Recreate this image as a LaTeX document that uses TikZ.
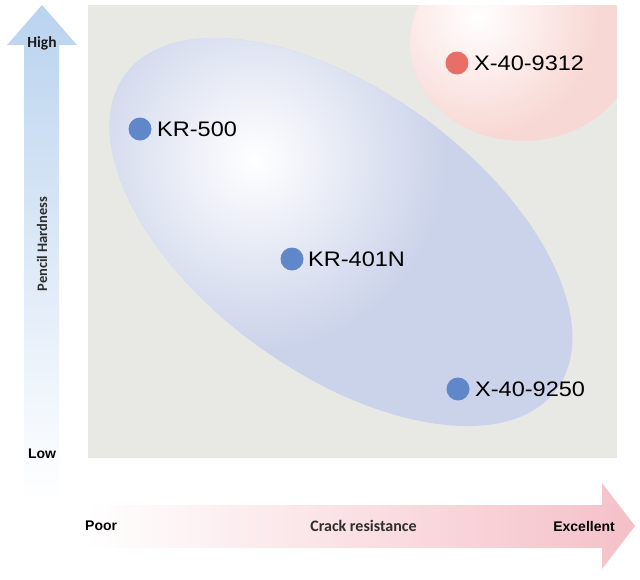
\documentclass[tikz,border=0pt]{standalone}
\usepackage{fontspec}
\setmainfont{Liberation Sans}
\newfontfamily\carlfont{Carlito}
\usepackage{graphicx}
\definecolor{bggray}{HTML}{E8E9E5}
\definecolor{blueell}{HTML}{CBD3EA}
\definecolor{pinkell}{HTML}{F8D8D4}
\definecolor{dotblue}{HTML}{5F87C9}
\definecolor{dotred}{HTML}{E86E68}
\definecolor{arrblue}{HTML}{BAD3EF}
\definecolor{arrpink}{HTML}{F5C0C8}
\definecolor{txtdark}{HTML}{2E2E2E}
\begin{document}
\begin{tikzpicture}[x=1pt,y=-1pt,
  dotb/.style={circle,fill=dotblue,minimum size=23pt,inner sep=0pt},
  dotr/.style={circle,fill=dotred,minimum size=23pt,inner sep=0pt},
  lab/.style={anchor=west,inner sep=0pt,font=\fontsize{21}{21}\selectfont},
  axlab/.style={inner sep=0pt,text=txtdark,font=\carlfont\bfseries\fontsize{15}{15}\selectfont},
  endlab/.style={inner sep=0pt,text=black,font=\bfseries\fontsize{14}{14}\selectfont}]
\useasboundingbox (0,0) rectangle (640,579);
% plot background
\fill[bggray] (88,5) rectangle (617,458);
% pink region
\begin{scope}
  \clip (88,5) rectangle (617,458);
  \clip (523,43) ellipse [x radius=113, y radius=98];
  \fill[pinkell] (400,-60) rectangle (640,150);
  \shade[inner color=white, outer color=pinkell] (478,16) circle (120);
\end{scope}
% blue region
\begin{scope}
  \clip[rotate around={-36:(341,232)}] (341,232) ellipse [x radius=267, y radius=141];
  \fill[blueell] (80,0) rectangle (620,460);
  \shade[inner color=white, outer color=blueell] (255,160) circle (190);
\end{scope}
% vertical arrow
\shade[top color=arrblue, bottom color=white]
  (42,5) -- (77,45) -- (59,45) -- (59,500) -- (24,500) -- (24,45) -- (7,45) -- cycle;
% horizontal arrow
\shade[left color=white, right color=arrpink]
  (85,505) -- (602,505) -- (602,483) -- (635,526) -- (602,569) -- (602,548) -- (85,548) -- cycle;
% axis labels
\node[axlab,text=black!90,font=\carlfont\bfseries\fontsize{15.5}{15.5}\selectfont] (high) at (42,43) {High};
\node[endlab] (low) at (42,454) {Low};
\node[axlab,rotate=90,font=\carlfont\bfseries\fontsize{14.5}{14.5}\selectfont] (ylab) at (42,244) {Pencil Hardness};
\node[endlab,anchor=west] (poor) at (85,526) {Poor};
\node[axlab,font=\carlfont\bfseries\fontsize{16}{16}\selectfont] (xlab) at (363.5,526) {Crack resistance};
\node[endlab,anchor=east] (exc) at (615,526) {Excellent};
% data points
\node[dotr] (p1) at (457,63) {};
\node[lab] (t1) at (474,63) {\scalebox{1.12}[1]{X-40-9312}};
\node[dotb] (p2) at (140,129) {};
\node[lab] (t2) at (157,129) {\scalebox{1.12}[1]{KR-500}};
\node[dotb] (p3) at (292,259) {};
\node[lab] (t3) at (308,259) {\scalebox{1.12}[1]{KR-401N}};
\node[dotb] (p4) at (458,389) {};
\node[lab] (t4) at (475,389) {\scalebox{1.12}[1]{X-40-9250}};
\end{tikzpicture}
\end{document}
